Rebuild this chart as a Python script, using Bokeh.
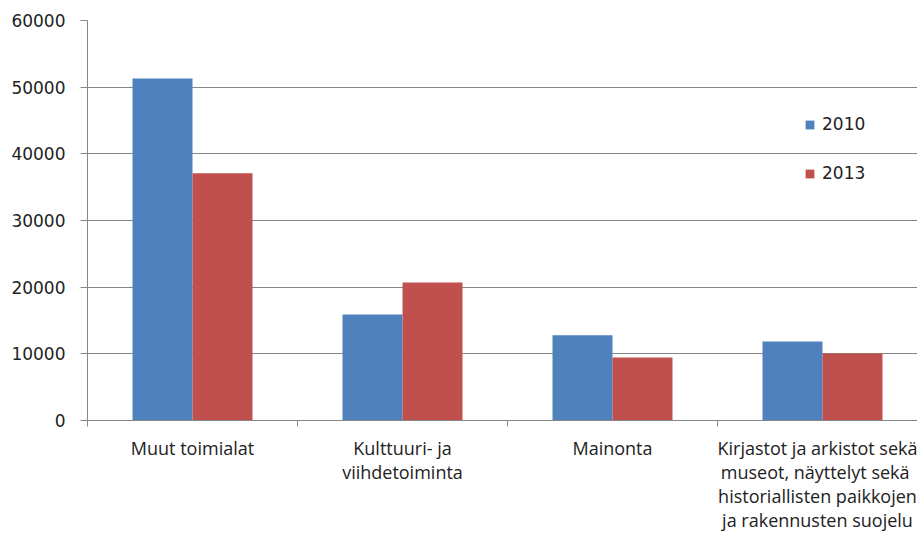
from bokeh.plotting import figure
from bokeh.models import Range1d, FixedTicker, Legend, LegendItem
from bokeh.embed import file_html
from bokeh.resources import INLINE

categories = ["Muut toimialat", "Kulttuuri- ja\nviihdetoiminta", "Mainonta",
              "Kirjastot ja arkistot sekä\n museot, näyttelyt sekä\nhistoriallisten paikkojen\nja rakennusten suojelu"]
years = ["2010", "2013"]
values_2010 = [51300, 15900, 12800, 11850]
values_2013 = [37100, 20700, 9450, 10050]
y_ticks = [0, 10000, 20000, 30000, 40000, 50000, 60000]

colors = ["#4F81BD", "#C0504D"]

p = figure(frame_width=830, frame_height=400, output_backend="svg", toolbar_location=None,
           x_range=Range1d(0, 830 / 210), y_range=Range1d(0, 60000),
           min_border_left=87, min_border_right=0, min_border_top=20, min_border_bottom=10)
p.outline_line_color = None
p.xgrid.visible = False

centers = [i + 0.5 for i in range(len(categories))]
bw = 60 / 210
r1 = p.vbar(x=[c - bw / 2 for c in centers], top=values_2010, width=bw, color=colors[0], line_color=None)
r2 = p.vbar(x=[c + bw / 2 for c in centers], top=values_2013, width=bw, color=colors[1], line_color=None)

grey = "#868686"
# y axis
p.yaxis.ticker = FixedTicker(ticks=y_ticks)
p.yaxis.axis_line_color = grey
p.yaxis.major_tick_line_color = grey
p.yaxis.major_tick_out = 7
p.yaxis.major_tick_in = 0
p.yaxis.minor_tick_line_color = None
p.yaxis.major_label_standoff = 15
p.yaxis.major_label_text_font = "DejaVu Sans"
p.yaxis.major_label_text_font_size = "17px"
p.yaxis.major_label_text_color = "#222222"
p.yaxis.formatter.use_scientific = False
p.ygrid.ticker = FixedTicker(ticks=y_ticks)
p.ygrid.grid_line_color = grey
p.ygrid.grid_line_width = 1

# x axis
p.xaxis.ticker = FixedTicker(ticks=centers, minor_ticks=list(range(len(categories) + 1)))
p.xaxis.major_label_overrides = {c: lab for c, lab in zip(centers, categories)}
p.xaxis.axis_line_color = grey
p.xaxis.major_tick_line_color = None
p.xaxis.major_tick_out = 0
p.xaxis.major_tick_in = 0
p.xaxis.minor_tick_line_color = grey
p.xaxis.minor_tick_out = 6
p.xaxis.minor_tick_in = 0
p.xaxis.major_label_standoff = 9
p.xaxis.major_label_text_font = "Open Sans"
p.xaxis.major_label_text_font_size = "18px"
p.xaxis.major_label_text_color = "#222222"
p.xaxis.major_label_text_line_height = 1.0
p.xaxis.major_label_orientation = "horizontal"

legend = Legend(items=[LegendItem(label=years[0], renderers=[r1]),
                       LegendItem(label=years[1], renderers=[r2])],
                location=(717, 237), padding=0, margin=0, spacing=29,
                glyph_width=11, glyph_height=11, label_height=11, label_standoff=7,
                border_line_color=None, background_fill_alpha=0,
                label_text_font="DejaVu Sans", label_text_font_size="17px",
                label_text_color="#222222")
p.add_layout(legend, "center")

open("out.html", "w").write(file_html(p, INLINE))
